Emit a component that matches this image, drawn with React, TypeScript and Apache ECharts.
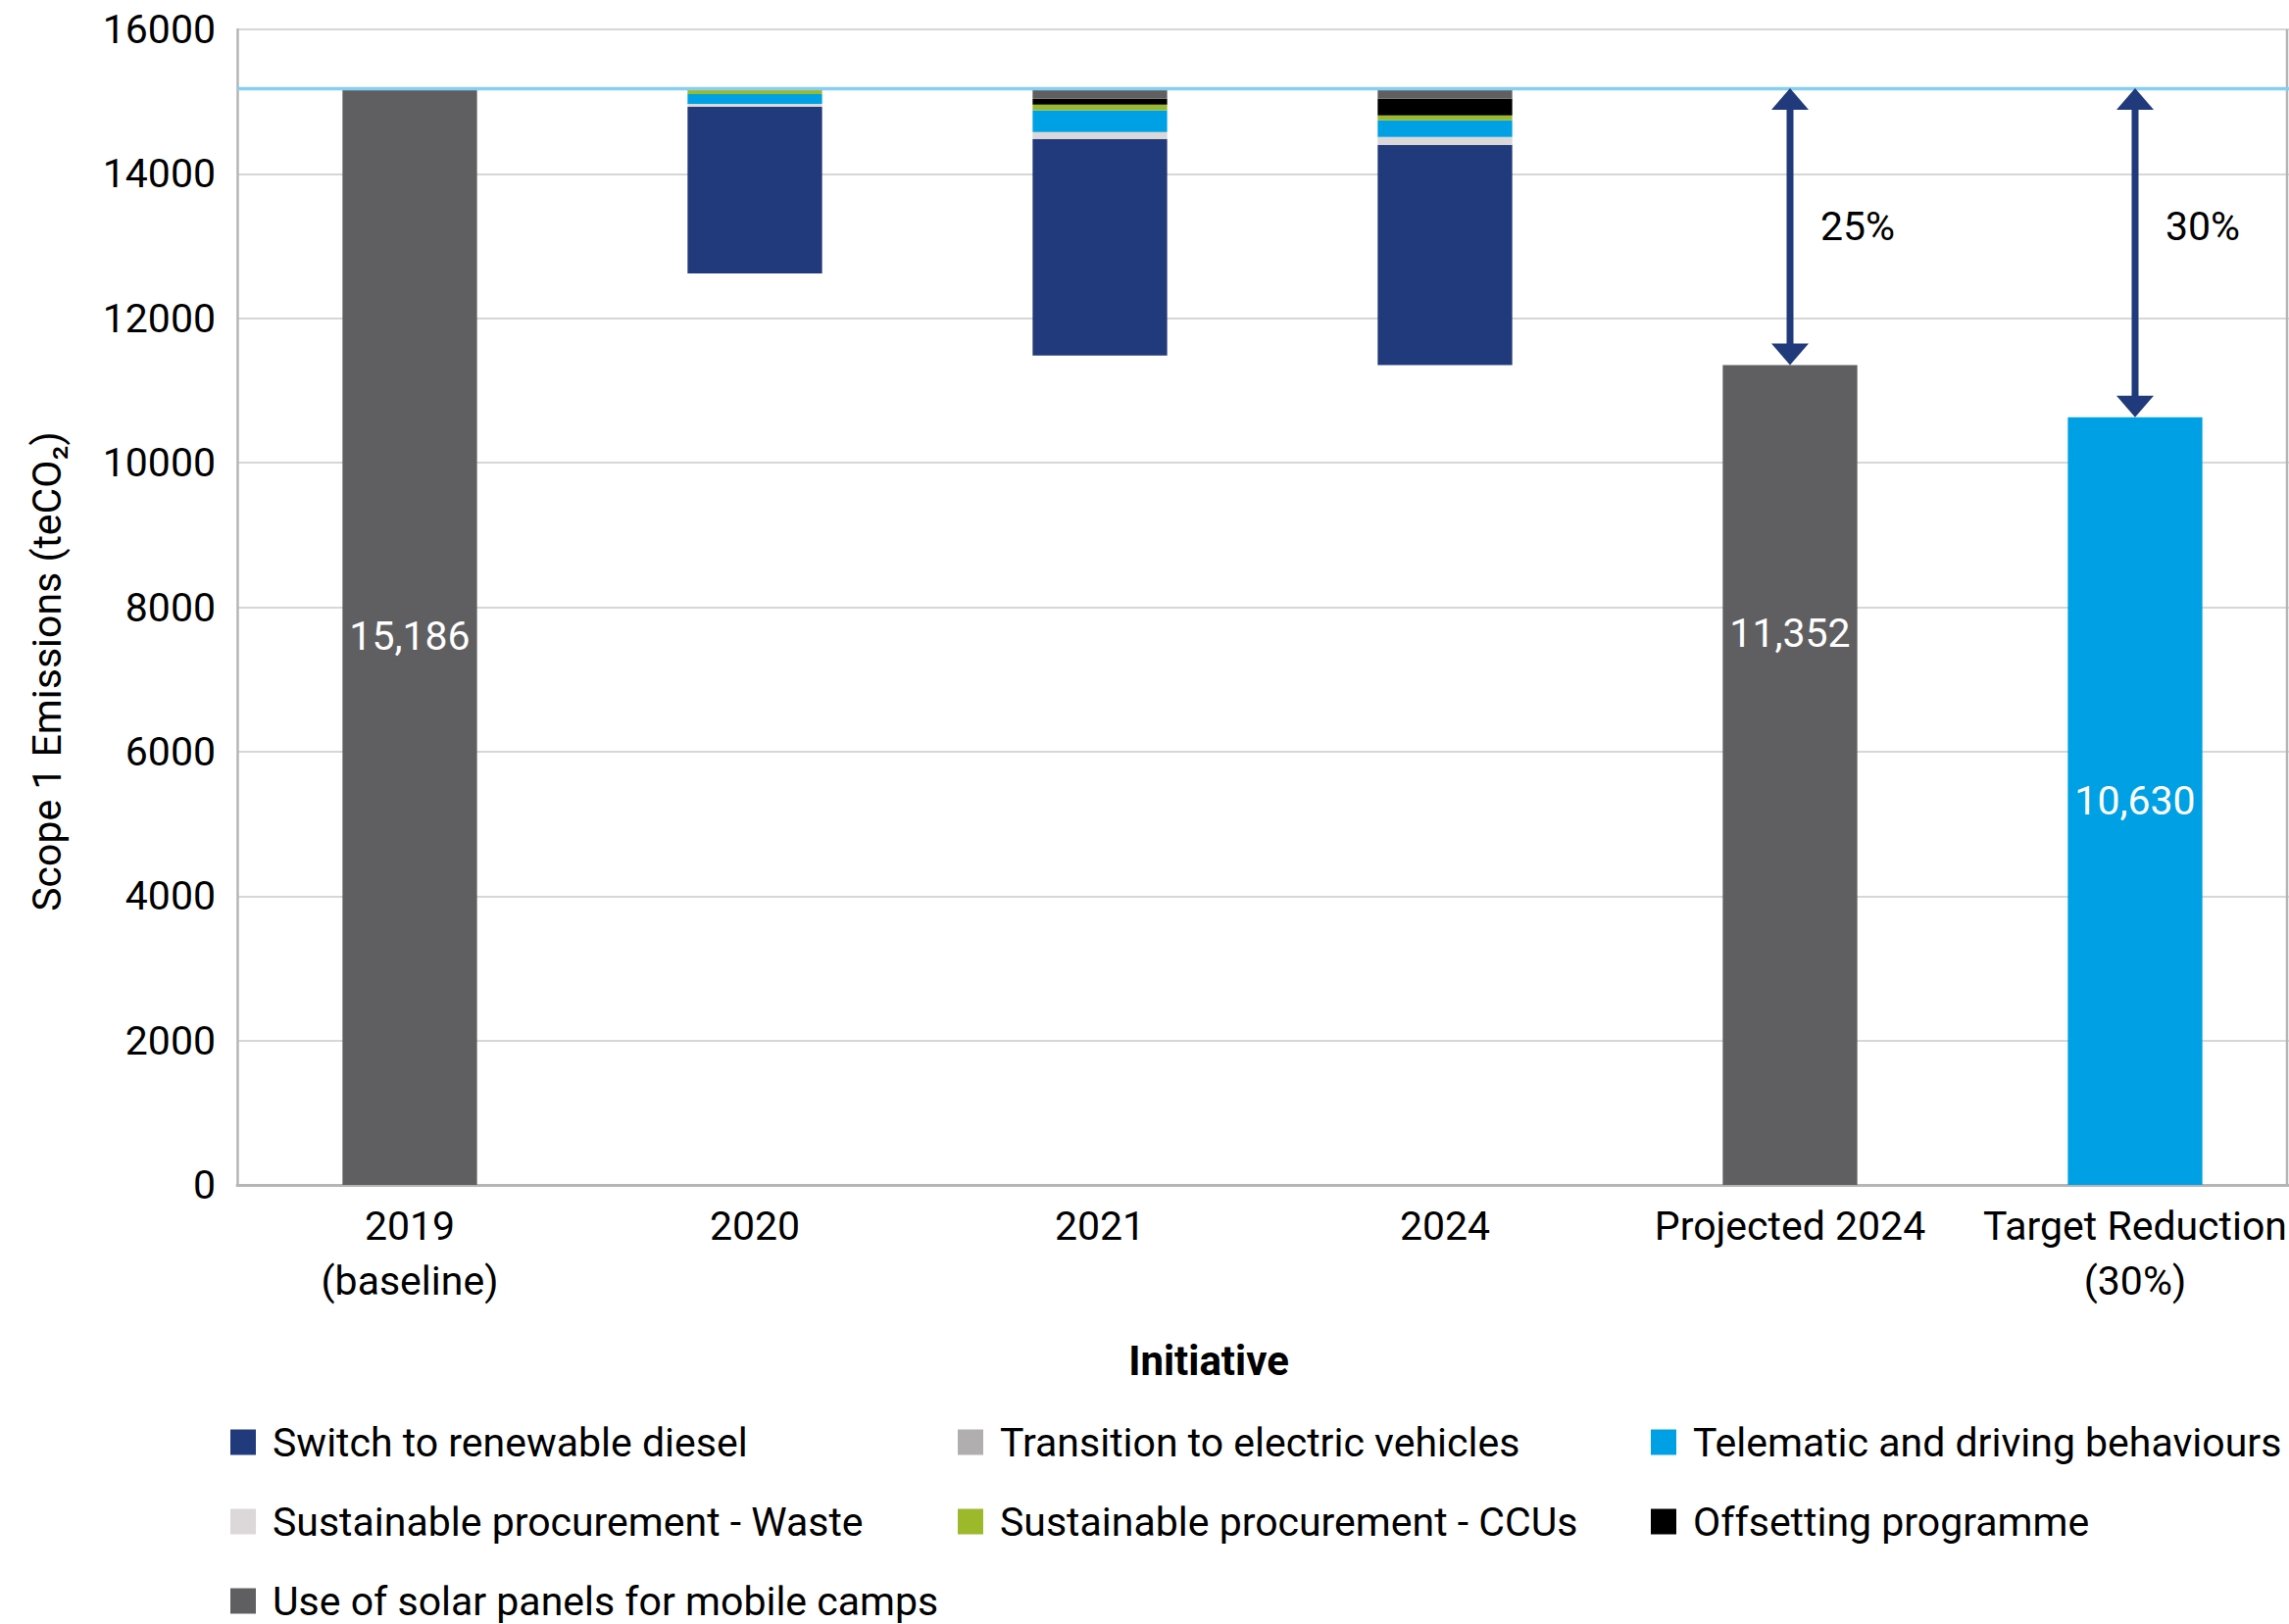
import React, { useEffect, useRef } from "react";
import * as echarts from "echarts";

const categories = ["2019\n(baseline)", "2020", "2021", "2024", "Projected 2024", "Target Reduction\n(30%)"];

const baselineValue = 15186;
const projectedValue = 11352;
const targetValue = 10630;

// Reductions for 2020, 2021, 2024 (stack order bottom -> top)
const dieselValues = [2307, 2999, 3050];
const evValues = [0, 0, 0];
const wasteValues = [41, 95, 109];
const telematicValues = [136, 299, 231];
const ccuValues = [81, 81, 68];
const offsetValues = [0, 81, 231];
const solarValues = [0, 145, 145];

const yTicks = { min: 0, max: 16000, interval: 2000 };

const NAVY = "#213a7b";
const BLUE = "#00a1e4";
const GREEN = "#9cb92c";
const LIGHT = "#dcd8d9";
const MIDGRAY = "#b1aeb0";
const BLACK = "#000000";
const DARKGRAY = "#5f5f61";
const FONT = "Roboto, 'Noto Sans', sans-serif";

export default function App() {
  const ref = useRef<HTMLDivElement>(null);

  useEffect(() => {
    if (!ref.current) return;
    const chart = echarts.init(ref.current, null, { renderer: "svg" });

    const initiatives = [
      { name: "Switch to renewable diesel", values: dieselValues, color: NAVY },
      { name: "Transition to electric vehicles", values: evValues, color: MIDGRAY },
      { name: "Sustainable procurement - Waste", values: wasteValues, color: LIGHT },
      { name: "Telematic and driving behaviours", values: telematicValues, color: BLUE },
      { name: "Sustainable procurement - CCUs", values: ccuValues, color: GREEN },
      { name: "Offsetting programme", values: offsetValues, color: BLACK },
      { name: "Use of solar panels for mobile camps", values: solarValues, color: DARKGRAY },
    ];

    const baseData = [0, 0, 0, 0, 0, 0];
    for (let i = 0; i < 3; i++) {
      let sum = 0;
      initiatives.forEach((s) => (sum += s.values[i]));
      baseData[i + 1] = baselineValue - sum;
    }

    const fmt = (v: number) => v.toLocaleString("en-US");
    const labelStyle = { show: true, position: "inside", color: "#ffffff", fontSize: 41, fontFamily: FONT, formatter: (p: any) => fmt(p.value) };

    const totalData: any[] = [
      { value: baselineValue, itemStyle: { color: DARKGRAY }, label: labelStyle },
      "-",
      "-",
      "-",
      { value: projectedValue, itemStyle: { color: DARKGRAY }, label: { ...labelStyle, offset: [0, -145] } },
      { value: targetValue, itemStyle: { color: BLUE }, label: labelStyle },
    ];

    const labelAnchor = (baselineValue + projectedValue) / 2;
    const arrowData = [
      [categories[4], baselineValue, projectedValue, labelAnchor],
      [categories[5], baselineValue, targetValue, labelAnchor],
    ];

    const legendCommon = {
      orient: "vertical",
      top: 1451,
      height: 300,
      padding: 0,
      itemWidth: 26,
      itemHeight: 26,
      itemGap: 40,
      icon: "rect",
      selectedMode: false,
      textStyle: { fontSize: 41, lineHeight: 41, color: "#000", fontFamily: FONT, padding: [0, 0, 0, 12] },
    };

    const option: any = {
      animation: false,
      textStyle: { fontFamily: FONT },
      grid: { left: 242, width: 2112, top: 30, bottom: 448, containLabel: false, outerBoundsMode: "none" },
      legend: [
        { ...legendCommon, left: 235, data: [initiatives[0].name, initiatives[2].name, initiatives[6].name] },
        { ...legendCommon, left: 977, data: [initiatives[1].name, initiatives[4].name] },
        { ...legendCommon, left: 1684, data: [initiatives[3].name, initiatives[5].name] },
      ],
      xAxis: {
        type: "category",
        data: categories,
        axisLine: { show: true, lineStyle: { color: "#b7b4b5", width: 3 } },
        axisTick: { show: false },
        axisLabel: { interval: 0, fontSize: 41, lineHeight: 56, margin: 14, color: "#000", fontFamily: FONT },
      },
      yAxis: {
        type: "value",
        min: yTicks.min,
        max: yTicks.max,
        interval: yTicks.interval,
        axisLine: { show: true, lineStyle: { color: "#b7b4b5", width: 2.5 } },
        axisTick: { show: false },
        axisLabel: { fontSize: 41, margin: 22, color: "#000", fontFamily: FONT, formatter: (v: number) => String(v) },
        splitLine: { lineStyle: { color: "#cbc9ca", width: 1.5 } },
      },
      graphic: [
        {
          type: "line",
          shape: { x1: 2333, y1: 30, x2: 2333, y2: 1209 },
          style: { stroke: "#b7b4b5", lineWidth: 2.5 },
          z: 1,
        },
        {
          type: "text",
          x: 48,
          y: 685,
          rotation: Math.PI / 2,
          style: {
            text: "Scope 1 Emissions (teCO₂)",
            fontSize: 41,
            fontFamily: FONT,
            fill: "#000",
            align: "center",
            verticalAlign: "middle",
          },
        },
        {
          type: "text",
          x: 1233,
          y: 1388,
          style: {
            text: "Initiative",
            fontSize: 42,
            fontWeight: "bold",
            fontFamily: FONT,
            fill: "#000",
            align: "center",
            verticalAlign: "middle",
          },
        },
      ],
      series: [
        {
          name: "base",
          type: "bar",
          stack: "total",
          barWidth: "39%",
          itemStyle: { color: "transparent" },
          emphasis: { disabled: true },
          data: baseData,
        },
        {
          name: "Total",
          type: "bar",
          stack: "total",
          barWidth: "39%",
          data: totalData,
          markLine: {
            silent: true,
            symbol: "none",
            label: { show: false },
            lineStyle: { color: "#86cff2", width: 3.3, type: "solid" },
            data: [{ yAxis: baselineValue }],
            z: 5,
          },
        },
        ...initiatives.map((s) => ({
          name: s.name,
          type: "bar",
          stack: "total",
          barWidth: "39%",
          itemStyle: { color: s.color },
          data: ["-", ...s.values, "-", "-"],
        })),
        {
          name: "arrows",
          type: "custom",
          clip: false,
          z: 10,
          encode: { x: 0, y: 1 },
          data: arrowData,
          renderItem: (params: any, api: any) => {
            const top = api.coord([api.value(0), api.value(1)]);
            const bot = api.coord([api.value(0), api.value(2)]);
            const lab = api.coord([api.value(0), api.value(3)]);
            const x = top[0];
            const yT = top[1];
            const yB = bot[1];
            const hw = 19;
            const hh = 22;
            const sw = 3.5;
            const pct = Math.round(((api.value(1) - api.value(2)) / api.value(1)) * 100) + "%";
            return {
              type: "group",
              children: [
                { type: "rect", shape: { x: x - sw, y: yT + hh - 1, width: sw * 2, height: yB - yT - 2 * hh + 2 }, style: { fill: NAVY } },
                { type: "polygon", shape: { points: [[x, yT], [x - hw, yT + hh], [x + hw, yT + hh]] }, style: { fill: NAVY } },
                { type: "polygon", shape: { points: [[x, yB], [x - hw, yB - hh], [x + hw, yB - hh]] }, style: { fill: NAVY } },
                {
                  type: "text",
                  x: x + 31,
                  y: lab[1],
                  style: { text: pct, fontSize: 41, fontFamily: FONT, fill: "#000", align: "left", verticalAlign: "middle" },
                },
              ],
            };
          },
        },
      ],
    };

    chart.setOption(option);
    return () => chart.dispose();
  }, []);

  return <div ref={ref} style={{ position: "absolute", left: 0, top: 0, width: 2335, height: 1657 }} />;
}
